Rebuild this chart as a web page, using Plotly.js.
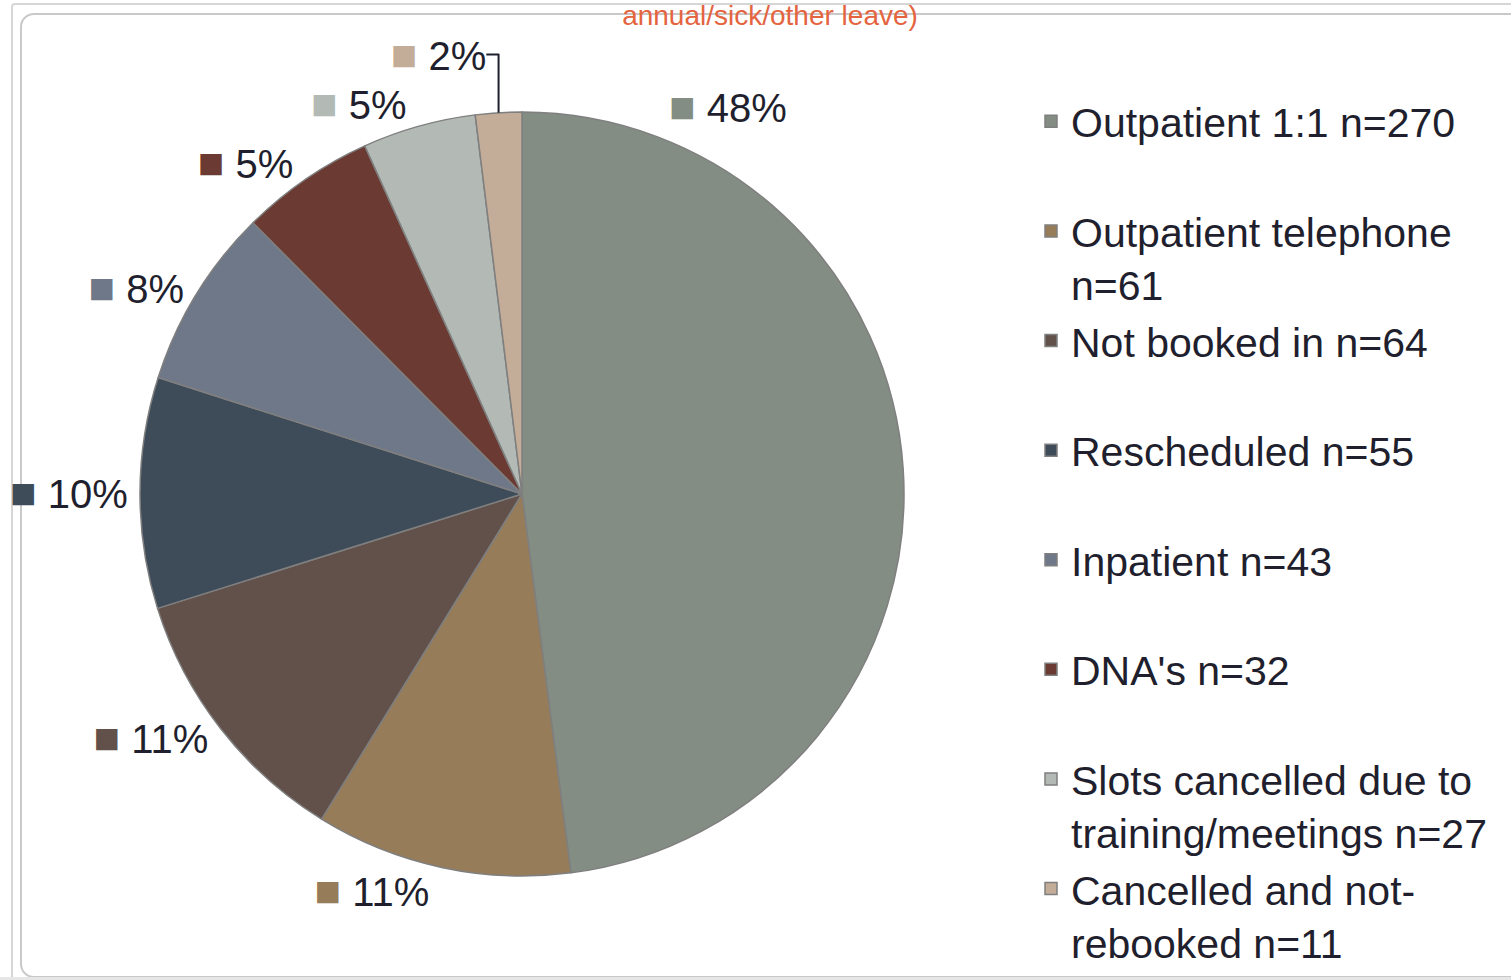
<!DOCTYPE html>
<html>
<head>
<meta charset="utf-8">
<script src="https://cdn.plot.ly/plotly-3.0.1.min.js"></script>
<style>
  html, body { margin: 0; padding: 0; background: #ffffff; overflow: hidden; }
  #outer { position: absolute; left: 11px; top: 3px; width: 1520px; height: 990px;
           border: 2px solid #d6d6d6; border-radius: 4px; }
  #inner { position: absolute; left: 20px; top: 13px; width: 1500px; height: 961px;
           border: 2px solid #c9c9c9; border-radius: 14px; background: #ffffff; }
  #strip { position: absolute; left: 0; top: 977px; width: 1511px; height: 3px; background: #e6e6e6; }
  #chart { position: absolute; left: 0; top: 0; width: 1511px; height: 980px; }
</style>
</head>
<body>
<div id="outer"></div>
<div id="inner"></div>
<div id="strip"></div>
<div id="chart"></div>
<script>
// ---- data ----
const categories = [
  'Outpatient 1:1 n=270',
  'Outpatient telephone<br>n=61',
  'Not booked in n=64',
  'Rescheduled n=55',
  'Inpatient n=43',
  "DNA's n=32",
  'Slots cancelled due to<br>training/meetings n=27',
  'Cancelled and not-<br>rebooked n=11'
];
const counts = [270, 61, 64, 55, 43, 32, 27, 11];
const pctLabels = ['48%', '11%', '11%', '10%', '8%', '5%', '5%', '2%'];
const colors = ['#838d83', '#967c58', '#62514a', '#3e4b59', '#6f7888', '#6b3b33', '#b3bab5', '#c3ad98'];
const titleText = 'annual/sick/other leave)';

// ---- build ----
const legendLabels = categories.map(c => c.includes('<br>') ? c : c + '<br> ');
const sq = (col) => '<span style="color:' + col + ';font-size:44px">■</span>';
const sliceText = pctLabels.map((p, i) => sq(colors[i]) + ' ' + p);
const textPos = pctLabels.map((p, i) => i === 0 ? 'none' : 'outside');

const W = 1511, H = 980;
const cx = 522, cy = 494, r = 382;
const FONT = 'Liberation Sans, Arial, sans-serif';

const trace = {
  type: 'pie',
  labels: legendLabels,
  values: counts,
  text: sliceText,
  textinfo: 'text',
  textposition: textPos,
  sort: false,
  direction: 'clockwise',
  rotation: 0,
  marker: { colors: colors, line: { color: '#7f7f7f', width: 1.5 } },
  textfont: { family: FONT, size: 40, color: '#1f1f2e' },
  outsidetextfont: { family: FONT, size: 40, color: '#1f1f2e' },
  hoverinfo: 'none',
  domain: { x: [(cx - r) / W, (cx + r) / W], y: [1 - (cy + r) / H, 1 - (cy - r) / H] }
};

const layout = {
  width: W, height: H,
  margin: { l: 0, r: 0, t: 0, b: 0 },
  paper_bgcolor: 'rgba(0,0,0,0)',
  plot_bgcolor: 'rgba(0,0,0,0)',
  title: {
    text: titleText,
    font: { family: FONT, size: 28, color: '#e4643f' },
    x: 770 / W, xanchor: 'center',
    y: 1 - 5 / H, yanchor: 'top', yref: 'container'
  },
  showlegend: true,
  legend: {
    x: 1031 / W, xanchor: 'left',
    y: 0.910, yanchor: 'top',
    valign: 'top',
    font: { family: FONT, size: 41, color: '#1f1f2e' },
    bgcolor: 'rgba(0,0,0,0)'
  },
  annotations: [{
    xref: 'paper', yref: 'paper',
    x: 728 / W, y: 1 - 107 / H,
    xanchor: 'center', yanchor: 'middle',
    text: sliceText[0],
    showarrow: false,
    font: { family: FONT, size: 40, color: '#1f1f2e' }
  }]
};

Plotly.newPlot('chart', [trace], layout, { displayModeBar: false, staticPlot: true });
</script>
</body>
</html>
